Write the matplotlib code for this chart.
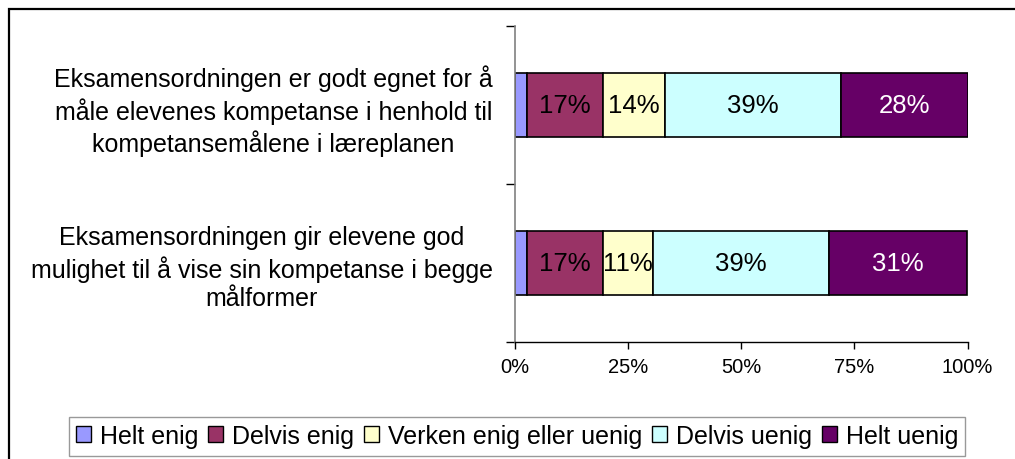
import numpy as np
import matplotlib
matplotlib.use("Agg")
import matplotlib.pyplot as plt
from matplotlib.patches import Rectangle

plt.rcParams['font.family'] = ['Liberation Sans', 'DejaVu Sans']

# statements, top to bottom
categories = [
    "Eksamensordningen er godt egnet for å\nmåle elevenes kompetanse i henhold til\nkompetansemålene i læreplanen",
    "Eksamensordningen gir elevene god\nmulighet til å vise sin kompetanse i begge\nmålformer",
]
series = ["Helt enig", "Delvis enig", "Verken enig eller uenig", "Delvis uenig", "Helt uenig"]
helt_enig = [2.6, 2.6]
delvis_enig = [16.8, 16.8]
verken = [13.8, 11.0]
delvis_uenig = [38.8, 38.9]
helt_uenig = [28.1, 30.6]
colors = ["#9999FF", "#993366", "#FFFFCC", "#CCFFFF", "#660066"]
label_colors = [None, "black", "black", "black", "white"]
xticks = [0, 25, 50, 75, 100]

values = [helt_enig, delvis_enig, verken, delvis_uenig, helt_uenig]

W, H = 1015, 460
fig = plt.figure(figsize=(W / 100, H / 100), dpi=100)
ax = fig.add_axes([515 / W, 1 - 343 / H, (967.5 - 515) / W, (343 - 27) / H])

# outer frame (runs off the right and bottom edge)
fig.patches.append(Rectangle((8.5 / W, -0.1), 1.2, 1 - 9.5 / H + 0.1, transform=fig.transFigure,
                             fill=False, edgecolor="black", linewidth=1.6))

y = np.arange(len(categories))
left = np.zeros(len(categories))
for name, vals, col, lc in zip(series, values, colors, label_colors):
    vals = np.array(vals)
    ax.barh(y, vals, left=left, height=0.4, color=col, edgecolor="black", linewidth=1.2, label=name)
    if lc is not None:
        for yi, l, v in zip(y, left, vals):
            ax.text(l + v / 2, yi, f"{int(round(v))}%", ha="center", va="center",
                    fontsize=18.5, color=lc)
    left += vals

ax.set_xlim(0, 100)
ax.set_ylim(1.5, -0.5)
ax.set_xticks(xticks)
ax.set_xticklabels([f"{t}%" for t in xticks], fontsize=14.5)
ax.tick_params(axis="x", direction="out", length=5, width=1, color="black", pad=6)

ax.set_yticks(y)
ax.set_yticklabels(categories, fontsize=18, multialignment="center", linespacing=1.25)
ax.set_yticks([-0.5, 0.5, 1.5], minor=True)
ax.tick_params(axis="y", which="major", length=0, pad=16)
ax.tick_params(axis="y", which="minor", direction="out", length=6.5, width=1, color="black")

for s in ["top", "right"]:
    ax.spines[s].set_visible(False)
ax.spines["left"].set_color("#808080")
ax.spines["left"].set_linewidth(1.2)
ax.spines["bottom"].set_color("black")
ax.spines["bottom"].set_linewidth(1)

leg = fig.legend(loc="center", bbox_to_anchor=(517 / W, 1 - 437 / H), ncol=5, fontsize=18,
                 frameon=True, fancybox=False, edgecolor="#808080", handlelength=0.6,
                 handleheight=0.6, handletextpad=0.35, columnspacing=0.4, borderpad=0.3,
                 borderaxespad=0)
leg.get_frame().set_linewidth(1)
for h in leg.legend_handles:
    h.set_linewidth(1)

fig.savefig("out.png", dpi=100)
